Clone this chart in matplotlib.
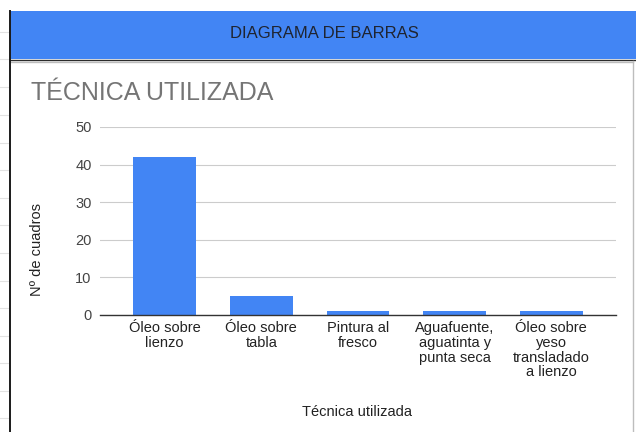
import matplotlib
matplotlib.use("Agg")
import matplotlib.pyplot as plt
from matplotlib.patches import Rectangle
from matplotlib.lines import Line2D

plt.rcParams['font.family'] = ['Liberation Sans', 'DejaVu Sans']

categories = ["Óleo sobre\nlienzo", "Óleo sobre\ntabla", "Pintura al\nfresco",
              "Aguafuente,\naguatinta y\npunta seca", "Óleo sobre\nyeso\ntransladado\na lienzo"]
values = [42, 5, 1, 1, 1]
yticks = [0, 10, 20, 30, 40, 50]
header_text = "DIAGRAMA DE BARRAS"
title_text = "TÉCNICA UTILIZADA"
xlabel_text = "Técnica utilizada"
ylabel_text = "Nº de cuadros"

W, H = 636, 432
fig = plt.figure(figsize=(W / 100, H / 100), dpi=100)
fig.patch.set_facecolor("white")


def fx(x):
    return x / W


def fy(y):
    return 1 - y / H


# faint sheet row marks on the far left
for yy in [32, 59, 87, 115, 143, 170, 198, 225, 253, 281, 308, 336, 363, 391, 418]:
    fig.add_artist(Line2D([fx(0), fx(8)], [fy(yy), fy(yy)], color="#e2e2e2", lw=0.8))

# header band
fig.add_artist(Rectangle((fx(10), fy(59)), fx(636) - fx(10), fy(11) - fy(59),
                         facecolor="#4285F4", edgecolor="none"))
fig.add_artist(Line2D([fx(10), fx(636)], [fy(59.5), fy(59.5)], color="#2b2b2b", lw=1.0))
fig.add_artist(Line2D([fx(10), fx(633)], [fy(61.5), fy(61.5)], color="#bdbdbd", lw=1.0))
# right gray border of chart box
fig.add_artist(Line2D([fx(632.5), fx(632.5)], [fy(61), fy(432)], color="#bdbdbd", lw=1.0))
# left black border
fig.add_artist(Line2D([fx(9.5), fx(9.5)], [fy(11), fy(432)], color="#1a1a1a", lw=1.4))

fig.text(fx(324.5), fy(34), header_text, ha="center", va="center",
         fontsize=12, color="#1f2430")
fig.text(fx(31), fy(100), title_text, ha="left", va="baseline",
         fontsize=18, color="#757575")

ax = fig.add_axes([fx(100), fy(315), fx(616) - fx(100), fy(127) - fy(315)])
x = list(range(len(categories)))
ax.bar(x, values, width=0.65, color="#4285F4", zorder=3)
ax.set_xlim(-0.67, len(categories) - 1 + 0.67)
ax.set_ylim(0, 50)
ax.set_yticks(yticks)
ax.set_xticks(x)
ax.set_xticklabels(categories, fontsize=10.5, color="#222222", linespacing=1.06)
ax.tick_params(axis="y", length=0, pad=6, labelsize=10.5, labelcolor="#444444")
ax.tick_params(axis="x", length=0, pad=4.5)
ax.grid(axis="y", color="#cccccc", lw=0.8, zorder=0)
for s in ["top", "right", "left"]:
    ax.spines[s].set_visible(False)
ax.spines["bottom"].set_color("#333333")
ax.spines["bottom"].set_linewidth(1.0)
ax.spines["bottom"].set_zorder(4)

fig.text(fx(37), fy(250), ylabel_text, rotation=90, ha="center", va="center",
         fontsize=10.5, color="#222222")
fig.text(fx(357), fy(412), xlabel_text, ha="center", va="center",
         fontsize=10.5, color="#222222")

fig.savefig("out.png", dpi=100, facecolor="white")
